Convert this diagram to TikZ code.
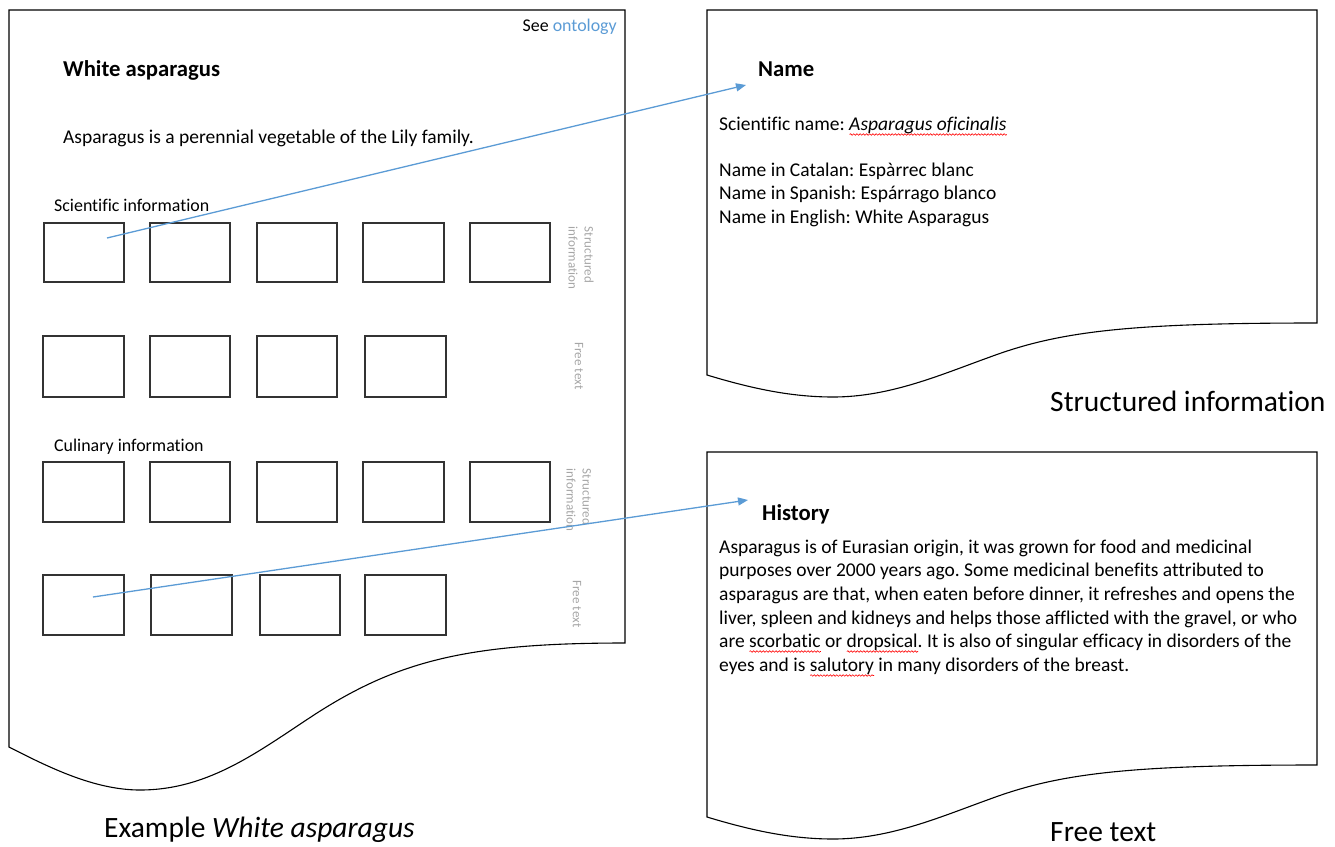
\documentclass[tikz,border=0pt]{standalone}
\usepackage{fontspec}
\setmainfont{Carlito}[Ligatures=NoCommon]
\frenchspacing
\usetikzlibrary{arrows.meta,decorations.pathmorphing}
\definecolor{linkblue}{HTML}{5B9BD5}
\definecolor{boxgray}{HTML}{333333}
\definecolor{notegray}{HTML}{A6A6A6}
% red wavy underline, as a spell checker marks a word
\newsavebox\wavebox
\newcommand\redwave[1]{\sbox\wavebox{#1}%
  \rlap{\tikz[baseline=0pt,x=1pt,y=1pt]{\draw[red, line width=0.6pt, decorate,
      decoration={snake, amplitude=0.8pt, segment length=3.2pt}]
      (0,-4.5) -- (\the\wd\wavebox,-4.5);}}%
  \usebox\wavebox}

\begin{document}
\begin{tikzpicture}[x=1pt,y=-1pt,
  page/.style={line width=1.1pt, draw=black},
  cell/.style={draw=boxgray, line width=1.4pt, inner sep=0pt},
  txt/.style={anchor=base west, inner sep=0pt, font=\fontsize{19.5}{23.6}\selectfont},
  head/.style={anchor=base west, inner sep=0pt, font=\fontsize{22.7}{27}\selectfont\bfseries},
  small/.style={anchor=base west, inner sep=0pt, font=\fontsize{17.9}{21}\selectfont},
  side/.style={rotate=-90, align=left, inner sep=0pt, text=notegray, font=\fontsize{13}{16}\selectfont},
  caption/.style={anchor=base west, inner sep=0pt, font=\fontsize{29.5}{35}\selectfont},
  link/.style={draw=linkblue, line width=1.3pt, -{Triangle[length=10pt,width=8pt]}}
]
\useasboundingbox (0,0) rectangle (1335,846);

% ---- document outlines with wavy bottom edges ----
\draw[page] (9,747) -- (9,10) -- (625,10) -- (625,643)
  .. controls (470,643) and (400,660) .. (317,713)
  .. controls (260,750) and (210,790) .. (140,790)
  .. controls (95,790) and (50,768) .. cycle;
\draw[page] (707,375) -- (707,10) -- (1317,10) -- (1317,323)
  .. controls (1130,323) and (1060,331) .. (990,357)
  .. controls (940,375) and (890,397) .. (833,397)
  .. controls (790,397) and (750,388) .. cycle;
\draw[page] (707,817) -- (707,452) -- (1317,452) -- (1317,765)
  .. controls (1130,765) and (1060,773) .. (990,799)
  .. controls (940,817) and (890,839) .. (833,839)
  .. controls (790,839) and (750,830) .. cycle;

% ---- example page ----
\node[small, anchor=base east] (see) at (617,31) {See \textcolor{linkblue}{ontology}};
\node[head] (title) at (63,76) {White asparagus};
\node[txt] (intro) at (63,143) {Asparagus is a perennial vegetable of the Lily family.};
\node[small] (sci) at (54,211) {Scientific information};
\node[small] (cul) at (54,451) {Culinary information};

% scientific information, structured
\node[cell, minimum width=80pt, minimum height=59pt] (r1c1) at (84,252.5) {};
\node[cell, minimum width=80pt, minimum height=59pt] (r1c2) at (190,252.5) {};
\node[cell, minimum width=80pt, minimum height=59pt] (r1c3) at (297,252.5) {};
\node[cell, minimum width=81pt, minimum height=59pt] (r1c4) at (403.5,252.5) {};
\node[cell, minimum width=80pt, minimum height=59pt] (r1c5) at (510,252.5) {};
% scientific information, free text
\node[cell, minimum width=81pt, minimum height=61pt] (r2c1) at (83.5,366.5) {};
\node[cell, minimum width=80pt, minimum height=61pt] (r2c2) at (190,366.5) {};
\node[cell, minimum width=80pt, minimum height=61pt] (r2c3) at (297,366.5) {};
\node[cell, minimum width=81pt, minimum height=61pt] (r2c4) at (405.5,366.5) {};
% culinary information, structured
\node[cell, minimum width=81pt, minimum height=60pt] (r3c1) at (83.5,492) {};
\node[cell, minimum width=80pt, minimum height=60pt] (r3c2) at (190,492) {};
\node[cell, minimum width=80pt, minimum height=60pt] (r3c3) at (297,492) {};
\node[cell, minimum width=81pt, minimum height=60pt] (r3c4) at (403.5,492) {};
\node[cell, minimum width=80pt, minimum height=60pt] (r3c5) at (510,492) {};
% culinary information, free text
\node[cell, minimum width=81pt, minimum height=60pt] (r4c1) at (83.5,605) {};
\node[cell, minimum width=81pt, minimum height=60pt] (r4c2) at (191.5,605) {};
\node[cell, minimum width=80pt, minimum height=60pt] (r4c3) at (300,605) {};
\node[cell, minimum width=81pt, minimum height=60pt] (r4c4) at (405.5,605) {};

\node[side] (s1) at (581,258) {Structured\\information};
\node[side] (f1) at (579,366) {Free text};
\node[side] (s2) at (579,500) {Structured\\information};
\node[side] (f2) at (577,604) {Free text};

% ---- structured information page ----
\node[head] (name) at (758,76) {Name};
\node[txt] (sn) at (719,130) {Scientific name: \redwave{\textit{Asparagus oficinalis}}};
\node[txt] (cat) at (719,176) {Name in Catalan: Espàrrec blanc};
\node[txt] (spa) at (719,199) {Name in Spanish: Espárrago blanco};
\node[txt] (eng) at (719,223) {Name in English: White Asparagus};

% ---- free text page ----
\node[head] (hist) at (762,520) {History};
\node[txt] (h1) at (719,553) {Asparagus is of Eurasian origin, it was grown for food and medicinal};
\node[txt] (h2) at (719,576) {purposes over 2000 years ago. Some medicinal benefits attributed to};
\node[txt] (h3) at (719,600) {asparagus are that, when eaten before dinner, it refreshes and opens the};
\node[txt] (h4) at (719,624) {liver, spleen and kidneys and helps those afflicted with the gravel, or who};
\node[txt] (h5) at (719,647) {are \redwave{scorbatic} or \redwave{dropsical}. It is also of singular efficacy in disorders of the};
\node[txt] (h6) at (719,671) {eyes and is \redwave{salutory} in many disorders of the breast.};

% ---- captions ----
\node[caption] (capA) at (104,837) {Example \textit{White asparagus}};
\node[caption] (capB) at (1050,411) {Structured information};
\node[caption] (capC) at (1050,841) {Free text};

% ---- links from the example page to the detail pages ----
\coordinate (l1s) at (107,238);
\coordinate (l1e) at (746,85);
\coordinate (l2s) at (93,597);
\coordinate (l2e) at (748,500);
\draw[link] (l1s) -- (l1e);
\draw[link] (l2s) -- (l2e);
\end{tikzpicture}
\end{document}
